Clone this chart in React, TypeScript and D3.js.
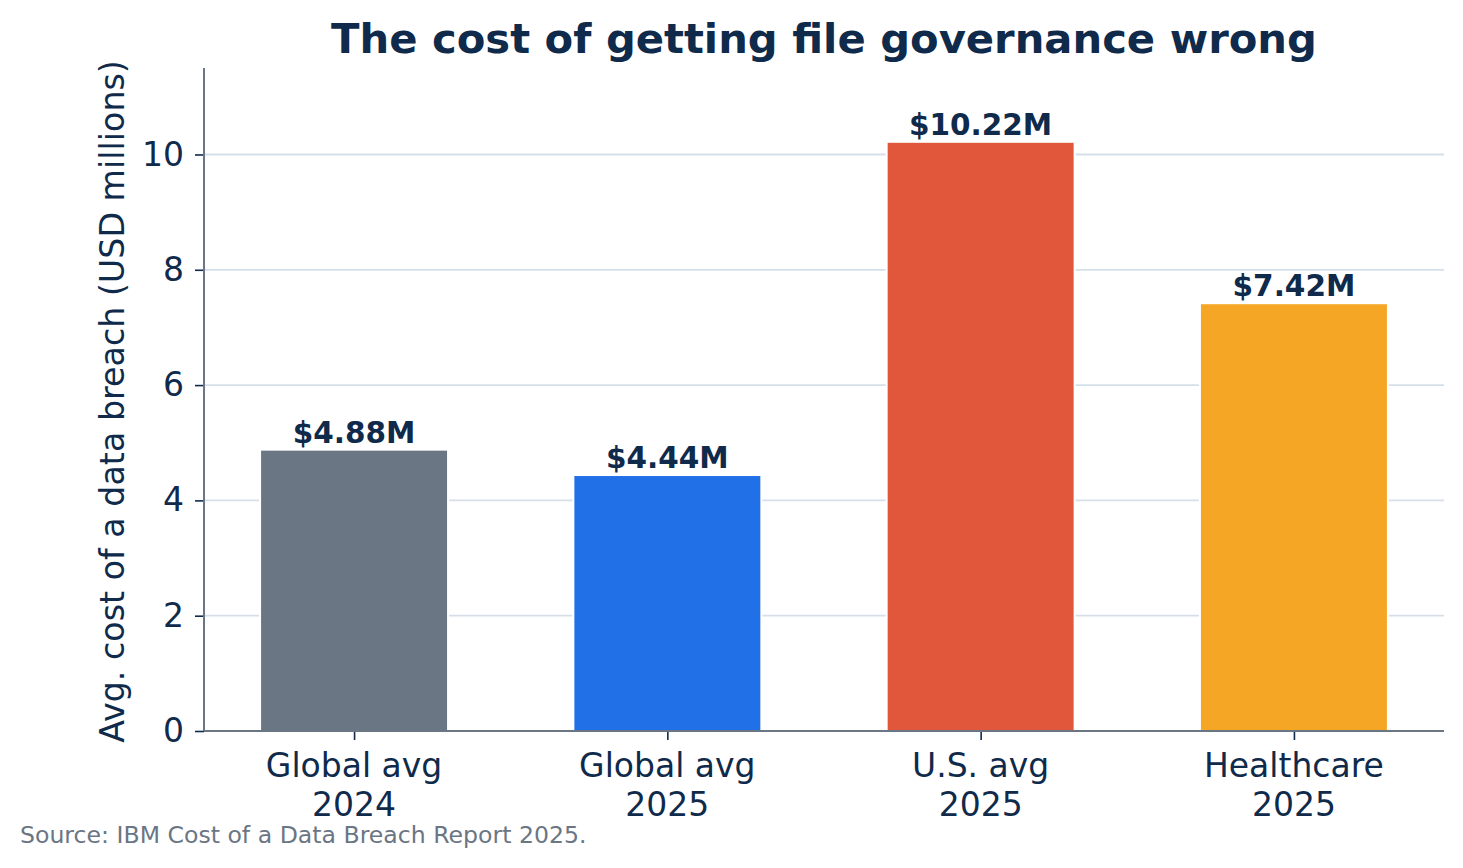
import * as d3 from "d3";
import { useEffect, useRef } from "react";

const categories = ["Global avg\n2024", "Global avg\n2025", "U.S. avg\n2025", "Healthcare\n2025"];
const values = [4.88, 4.44, 10.22, 7.42];
const valueLabels = ["$4.88M", "$4.44M", "$10.22M", "$7.42M"];
const barColors = ["#6b7684", "#2170e8", "#e0573b", "#f4a624"];
const yTicks = [0, 2, 4, 6, 8, 10];

const W = 1463;
const H = 868;
const margin = { top: 68, right: 19, bottom: 137, left: 204 };
const navy = "#0f2a4a";
const font = "DejaVu Sans, sans-serif";

export default function App() {
  const ref = useRef<SVGGElement>(null);
  const innerW = W - margin.left - margin.right;
  const innerH = H - margin.top - margin.bottom;

  const x = d3.scaleLinear().domain([-0.479, 3.479]).range([0, innerW]);
  const y = d3.scaleLinear().domain([0, 11.5]).range([innerH, 0]);
  const barW = x(0.6) - x(0);

  useEffect(() => {
    const g = d3.select(ref.current);
    g.selectAll("*").remove();

    // gridlines
    g.append("g")
      .selectAll("line")
      .data(yTicks.slice(1))
      .join("line")
      .attr("x1", 0)
      .attr("x2", innerW)
      .attr("y1", (d) => y(d))
      .attr("y2", (d) => y(d))
      .attr("stroke", "#d5dfea")
      .attr("stroke-width", 1.8);

    g.append("g")
      .selectAll("rect")
      .data(values)
      .join("rect")
      .attr("x", (d, i) => x(i) - barW / 2)
      .attr("y", (d) => y(d))
      .attr("width", barW)
      .attr("height", (d) => y(0) - y(d))
      .attr("fill", (d, i) => barColors[i])
      .attr("stroke", "white")
      .attr("stroke-width", 2);

    g.append("g")
      .selectAll("text")
      .data(values)
      .join("text")
      .attr("x", (d, i) => x(i))
      .attr("y", (d) => y(d) - 7)
      .attr("text-anchor", "middle")
      .attr("font-family", font)
      .attr("font-weight", "bold")
      .attr("font-size", 29.5)
      .attr("fill", navy)
      .text((d, i) => valueLabels[i]);

    const yAxis = d3.axisLeft(y).tickValues(yTicks).tickSize(9).tickPadding(11).tickFormat(d3.format("d"));
    const ya = g.append("g").call(yAxis);
    ya.select(".domain").remove();
    ya.selectAll(".tick line").attr("stroke", navy).attr("stroke-width", 1.6);
    ya.selectAll(".tick text").attr("font-family", font).attr("font-size", 33).attr("fill", navy);

    const xAxis = d3.axisBottom(x).tickValues([0, 1, 2, 3]).tickSize(9).tickFormat(() => "");
    const xa = g.append("g").attr("transform", `translate(0,${innerH})`).call(xAxis);
    xa.select(".domain").remove();
    xa.selectAll(".tick line").attr("stroke", navy).attr("stroke-width", 1.6);

    const lbl = g.append("g")
      .selectAll("text")
      .data(categories)
      .join("text")
      .attr("x", (d, i) => x(i))
      .attr("y", innerH + 46)
      .attr("text-anchor", "middle")
      .attr("font-family", font)
      .attr("font-size", 33)
      .attr("fill", navy);
    lbl.selectAll("tspan")
      .data((d) => d.split("\n"))
      .join("tspan")
      .attr("x", function () {
        return (this as any).parentNode.getAttribute("x");
      })
      .attr("dy", (d, i) => (i === 0 ? 0 : 39))
      .text((d) => d);

    // spines
    g.append("line")
      .attr("x1", 0).attr("x2", 0).attr("y1", 0).attr("y2", innerH)
      .attr("stroke", "#6b7684").attr("stroke-width", 2);
    g.append("line")
      .attr("x1", 0).attr("x2", innerW).attr("y1", innerH).attr("y2", innerH)
      .attr("stroke", "#6b7684").attr("stroke-width", 2);
  }, []);

  return (
    <svg width={W} height={H} style={{ position: "absolute", left: 0, top: 0, background: "white" }}>
      <text x={margin.left + innerW / 2} y={53} textAnchor="middle" fontFamily={font}
        fontWeight="bold" fontSize={41.7} fill={navy}>
        The cost of getting file governance wrong
      </text>
      <text transform={`translate(124,401.5) rotate(-90)`} textAnchor="middle"
        fontFamily={font} fontSize={33.3} fill={navy}>
        Avg. cost of a data breach (USD millions)
      </text>
      <g ref={ref} transform={`translate(${margin.left},${margin.top})`} />
      <text x={20} y={843} fontFamily={font} fontSize={23.6} fill="#6b7684">
        Source: IBM Cost of a Data Breach Report 2025.
      </text>
    </svg>
  );
}
